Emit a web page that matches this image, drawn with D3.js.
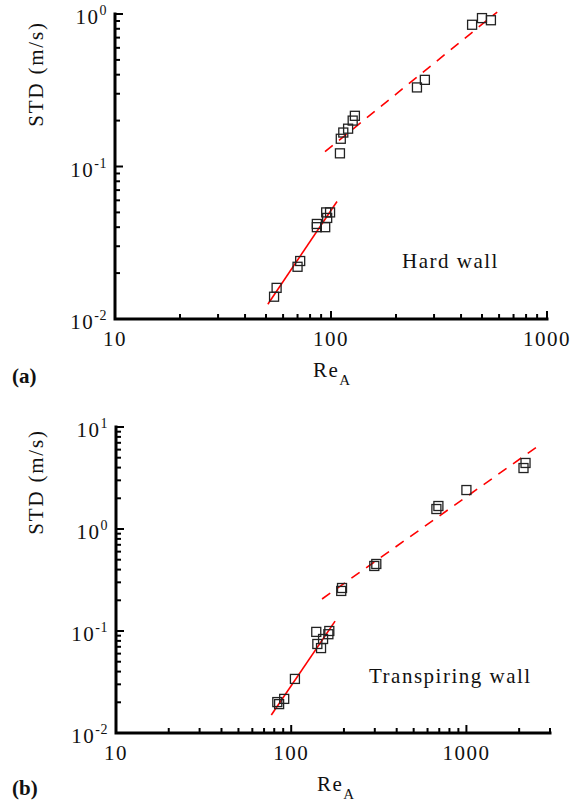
<!DOCTYPE html>
<html>
<head>
<meta charset="utf-8">
<title>STD vs Re_A</title>
<script src="https://cdn.jsdelivr.net/npm/d3@7/dist/d3.min.js"></script>
<style>
  *{ margin:0; padding:0; }
  body{ background:#fff; }
  svg text{ font-family:"Times New Roman","Liberation Serif",Times,serif; fill:#111; }
</style>
</head>
<body>
<div id="show"></div>
<script>
// panel (a) hard wall
var hardRe  = [54.5, 56, 70, 72, 86, 86, 94, 95, 96, 99, 110, 111, 114, 120, 126, 129, 250, 272, 450, 500, 550];
var hardStd = [0.014, 0.016, 0.022, 0.024, 0.042, 0.040, 0.040, 0.050, 0.046, 0.050, 0.122, 0.152, 0.167, 0.177, 0.200, 0.215, 0.33, 0.37, 0.85, 0.94, 0.91];
var hardFitRe   = [51, 106.6];
var hardFitStd  = [0.0125, 0.059];
var hardDashRe  = [93.8, 588];
var hardDashStd = [0.125, 1.03];

// panel (b) transpiring wall
var transRe  = [83.3, 91.2, 85.3, 105, 139, 165, 163, 152, 141, 148, 193, 195, 298, 306, 674, 692, 1000, 2118, 2175];
var transStd = [0.0201, 0.0216, 0.0192, 0.0339, 0.098, 0.100, 0.093, 0.0835, 0.0746, 0.068, 0.247, 0.264, 0.434, 0.454, 1.57, 1.68, 2.41, 3.96, 4.44];
var transFitRe   = [77, 178];
var transFitStd  = [0.015, 0.125];
var transDashRe  = [150, 2716];
var transDashStd = [0.206, 6.97];

var xTicksA = [10, 100, 1000];
var yTicksA = [-2, -1, 0];
var xTicksB = [10, 100, 1000];
var yTicksB = [-2, -1, 0, 1];

var svg = d3.select("#show").append("svg")
            .attr("width", 577)
            .attr("height", 801);

function logTicks(lo, hi){
  var out = [];
  for (var e = Math.floor(Math.log10(lo)); e <= Math.ceil(Math.log10(hi)); e++) {
    for (var i = 1; i <= 9; i++) {
      var v = i * Math.pow(10, e);
      if (v >= lo * 0.999 && v <= hi * 1.001) out.push({v: v, major: i == 1});
    }
  }
  return out;
}

function panel(o){
  var x = d3.scaleLog().domain(o.xDom).range([o.x0, o.x1]);
  var y = d3.scaleLog().domain(o.yDom).range([o.y0, o.y1]);
  var g = svg.append("g");

  // ticks point inward
  logTicks(o.xDom[0], o.xDom[1]).forEach(function(t){
    g.append("line").attr("x1", x(t.v)).attr("x2", x(t.v))
     .attr("y1", o.y0).attr("y2", o.y0 - (t.major ? 8 : 5))
     .attr("stroke", "#000").attr("stroke-width", 2);
  });
  logTicks(o.yDom[0], o.yDom[1]).forEach(function(t){
    g.append("line").attr("y1", y(t.v)).attr("y2", y(t.v))
     .attr("x1", o.x0).attr("x2", o.x0 + (t.major ? 8 : 5))
     .attr("stroke", "#000").attr("stroke-width", 2);
  });

  g.append("path")
   .attr("d", "M" + o.x0 + "," + o.y1 + "V" + o.y0 + "H" + o.x1)
   .attr("fill", "none").attr("stroke", "#000").attr("stroke-width", 3)
   .attr("stroke-linecap", "square");

  o.xTicks.forEach(function(v){
    g.append("text").attr("x", x(v)).attr("y", o.y0 + 27)
     .attr("text-anchor", "middle").style("font-size", "21px")
     .style("letter-spacing", "1.5px").text(v);
  });
  o.yTicks.forEach(function(e){
    var t = g.append("text").attr("x", o.x0 - 8).attr("y", y(Math.pow(10, e)) + 10)
     .attr("text-anchor", "end").style("font-size", "21px").style("letter-spacing", "1.5px");
    t.append("tspan").text("10");
    t.append("tspan").attr("dy", -9).style("font-size", "14px").style("letter-spacing", "0.5px").text(e);
  });

  var xt = g.append("text").attr("x", o.titleX).attr("y", o.y0 + 58)
            .style("font-size", "21px").style("letter-spacing", "1.5px");
  xt.append("tspan").text("Re");
  xt.append("tspan").attr("dy", 8).style("font-size", "15px").text("A");

  g.append("text")
   .attr("transform", "translate(43," + o.stdY + ") rotate(-90)")
   .attr("text-anchor", "middle")
   .style("font-size", "21px").style("letter-spacing", "1.8px")
   .text("STD (m/s)");

  g.append("text").attr("x", 12).attr("y", o.tagY)
   .style("font-size", "21px").style("font-weight", "bold").text(o.tag);

  g.append("text").attr("x", o.noteX).attr("y", o.noteY)
   .style("font-size", "21px").style("letter-spacing", "1.5px").text(o.note);

  // fit lines
  var line = d3.line().x(function(d){ return x(d[0]); }).y(function(d){ return y(d[1]); });
  g.append("path").datum(d3.zip(o.fitRe, o.fitStd)).attr("d", line)
   .attr("fill", "none").attr("stroke", "#ff0000").attr("stroke-width", 1.6);
  g.append("path").datum(d3.zip(o.dashRe, o.dashStd)).attr("d", line)
   .attr("fill", "none").attr("stroke", "#ff0000").attr("stroke-width", 1.6)
   .attr("stroke-dasharray", "10,8");

  // data squares
  g.selectAll("rect.pt").data(d3.zip(o.re, o.std)).enter().append("rect")
   .attr("class", "pt")
   .attr("x", function(d){ return x(d[0]) - 4.5; })
   .attr("y", function(d){ return y(d[1]) - 4.5; })
   .attr("width", 9).attr("height", 9)
   .attr("fill", "none").attr("stroke", "#222").attr("stroke-width", 1.3);
}

panel({
  xDom: [10, 1000], yDom: [0.01, 1],
  x0: 115, x1: 547, y0: 319, y1: 14,
  xTicks: xTicksA, yTicks: yTicksA,
  re: hardRe, std: hardStd,
  fitRe: hardFitRe, fitStd: hardFitStd,
  dashRe: hardDashRe, dashStd: hardDashStd,
  titleX: 313, stdY: 74, tag: "(a)", tagY: 383,
  note: "Hard wall", noteX: 402, noteY: 268
});

panel({
  xDom: [10, 3000], yDom: [0.01, 10],
  x0: 116, x1: 550, y0: 733, y1: 427,
  xTicks: xTicksB, yTicks: yTicksB,
  re: transRe, std: transStd,
  fitRe: transFitRe, fitStd: transFitStd,
  dashRe: transDashRe, dashStd: transDashStd,
  titleX: 317, stdY: 482, tag: "(b)", tagY: 795,
  note: "Transpiring wall", noteX: 369, noteY: 683
});
</script>
</body>
</html>
